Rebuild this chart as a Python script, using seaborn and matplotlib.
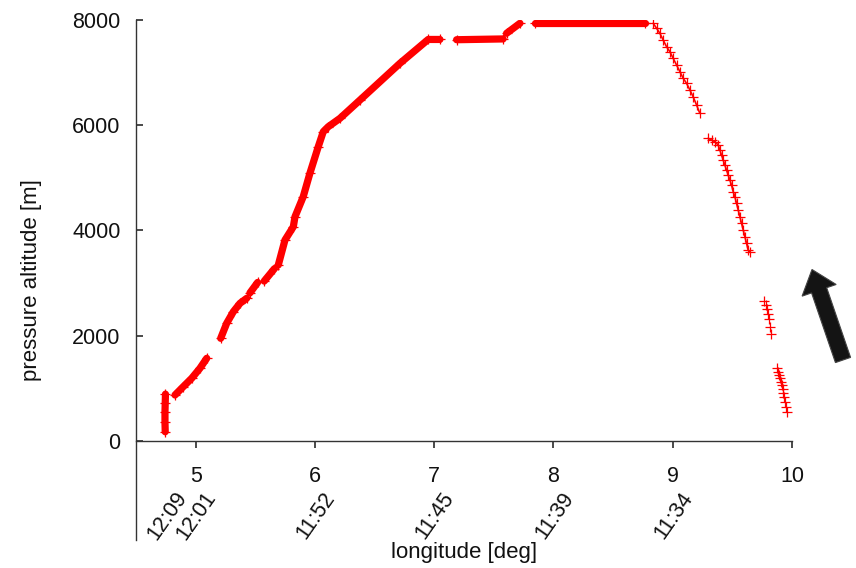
import numpy as np
import pandas as pd
import matplotlib
matplotlib.use("Agg")
import matplotlib.pyplot as plt
import matplotlib.transforms as mtransforms
from matplotlib.patches import FancyArrow
import seaborn as sns

# ---------------- data ----------------
# dense parts of the track (solid band of markers)
seg1_lon = [4.745, 4.743, 4.743, 4.745, 4.747]
seg1_alt = [170, 350, 550, 720, 885]
seg2_lon = [4.827, 4.896, 4.967, 5.036, 5.093]
seg2_alt = [869, 1027, 1187, 1377, 1567]
seg3_lon = [5.210, 5.260, 5.316, 5.372, 5.428]
seg3_alt = [1947, 2232, 2453, 2613, 2708]
seg4_lon = [5.455, 5.520]
seg4_alt = [2810, 3010]
seg5_lon = [5.575, 5.660]
seg5_alt = [3035, 3270]
seg6_lon = [5.693, 5.749, 5.819, 5.833, 5.902, 5.958, 6.028, 6.070, 6.112,
            6.210, 6.378, 6.713, 6.950, 7.048]
seg6_alt = [3341, 3816, 4069, 4259, 4640, 5085, 5590, 5876, 5971,
            6130, 6478, 7176, 7630, 7630]
seg7_lon = [7.188, 7.578]
seg7_alt = [7625, 7640]
seg8_lon = [7.607, 7.719]
seg8_alt = [7747, 7937]
seg9_lon = [7.845, 8.767]
seg9_alt = [7940, 7940]

# descent parts (individual markers visible)
seg10_lon = [8.836, 8.865, 8.892, 8.920, 8.948, 8.976, 9.004, 9.032, 9.060,
             9.088, 9.116, 9.144, 9.171, 9.200, 9.227]
seg10_alt = [7937, 7842, 7747, 7619, 7492, 7397, 7271, 7144, 7017,
             6891, 6796, 6669, 6541, 6383, 6226]
seg11_lon = [9.297, 9.326, 9.353, 9.381, 9.395, 9.409, 9.423, 9.437, 9.451,
             9.465, 9.479, 9.493, 9.507, 9.521, 9.535, 9.549, 9.563, 9.577,
             9.591, 9.605, 9.619, 9.632, 9.647]
seg11_alt = [5750, 5718, 5685, 5623, 5528, 5433, 5338, 5242, 5147,
             5052, 4957, 4862, 4735, 4640, 4514, 4387, 4259, 4134,
             4006, 3879, 3754, 3626, 3594]
seg12_lon = [9.764, 9.778, 9.787, 9.795, 9.806, 9.814, 9.820]
seg12_alt = [2662, 2580, 2499, 2409, 2308, 2168, 2023]
seg13_lon = [9.875, 9.884, 9.892, 9.898, 9.907, 9.912, 9.921, 9.926, 9.934,
             9.940, 9.949, 9.959]
seg13_alt = [1377, 1312, 1249, 1187, 1122, 1059, 977, 901, 825,
             742, 647, 551]

x_ticks = [5, 6, 7, 8, 9, 10]
y_ticks = [0, 2000, 4000, 6000, 8000]
time_lon = [4.76, 5.0, 6.0, 7.0, 8.0, 9.0]
time_labels = ["12:09", "12:01", "11:52", "11:45", "11:39", "11:34"]

# ---------------- build tables ----------------
dense_segs = [(seg1_lon, seg1_alt), (seg2_lon, seg2_alt), (seg3_lon, seg3_alt),
              (seg4_lon, seg4_alt), (seg5_lon, seg5_alt), (seg6_lon, seg6_alt),
              (seg7_lon, seg7_alt), (seg8_lon, seg8_alt), (seg9_lon, seg9_alt)]
sparse_segs = [(seg10_lon, seg10_alt), (seg11_lon, seg11_alt),
               (seg12_lon, seg12_alt), (seg13_lon, seg13_alt)]

def to_df(segs):
    rows = []
    for i, (lo, al) in enumerate(segs):
        rows.append(pd.DataFrame({"lon": lo, "alt": al, "seg": i}))
    return pd.concat(rows, ignore_index=True)

dense = to_df(dense_segs)
sparse = to_df(sparse_segs)

# ---------------- plot ----------------
sns.set_theme(style="white")
plt.rcParams["font.family"] = ["Liberation Sans", "DejaVu Sans"]

W, H = 856, 568
fig = plt.figure(figsize=(W / 100, H / 100), dpi=100)
ax = fig.add_axes([136 / W, 1 - 540 / H, (792 - 136) / W, (540 - 20) / H])

red = "#ff0000"
sns.lineplot(data=dense, x="lon", y="alt", units="seg", estimator=None,
             sort=False, color=red, lw=5.2, marker="+", markersize=7,
             markeredgewidth=0.9, markeredgecolor=red, ax=ax, legend=False)
sns.lineplot(data=sparse.iloc[:len(seg10_lon) + len(seg11_lon)], x="lon", y="alt",
             units="seg", estimator=None, sort=False, color=red, lw=1.2,
             ax=ax, legend=False)
sns.scatterplot(data=sparse, x="lon", y="alt", marker="+", color=red, s=50,
                linewidth=0.9, ax=ax, legend=False)

ax.set_xlim(4.5, 10)
ax.set_ylim(-1888, 8000)
ax.set_xticks(x_ticks)
ax.set_xticklabels([str(t) for t in x_ticks])
ax.set_yticks(y_ticks)
ax.set_yticklabels([str(t) for t in y_ticks])

for s in ["top", "right"]:
    ax.spines[s].set_visible(False)
ax.spines["bottom"].set_position(("data", 0))
for s in ["left", "bottom"]:
    ax.spines[s].set_color("#333333")
    ax.spines[s].set_linewidth(1.0)

ax.tick_params(axis="y", direction="in", length=5, pad=11, labelsize=15.5,
               left=True, color="#333333", labelcolor="#111111")
ax.tick_params(axis="x", direction="out", length=5, pad=13, labelsize=15.5,
               bottom=True, color="#333333", labelcolor="#111111")

ax.set_xlabel("longitude [deg]", fontsize=16, color="#111111")
ax.xaxis.set_label_coords(0.5, -0.004)
ax.set_ylabel("pressure altitude [m]", fontsize=16, color="#111111")
ax.yaxis.set_label_coords(-0.143, 0.5)

off = mtransforms.ScaledTranslation(0.16, 0, fig.dpi_scale_trans)
tr = mtransforms.blended_transform_factory(ax.transData, ax.transAxes) + off
for lo, lb in zip(time_lon, time_labels):
    ax.text(lo, 0.0885, lb, rotation=55, ha="right", va="center",
            rotation_mode="anchor", transform=tr, fontsize=15.5,
            color="#111111", clip_on=False)

arrow = FancyArrow(8.43, 2.08, -0.31, 0.905, width=0.16, head_width=0.36,
                   head_length=0.22, length_includes_head=True,
                   transform=fig.dpi_scale_trans, facecolor="#141414",
                   edgecolor="#444444", linewidth=0.8)
fig.add_artist(arrow)

fig.savefig("out.png", dpi=100)
